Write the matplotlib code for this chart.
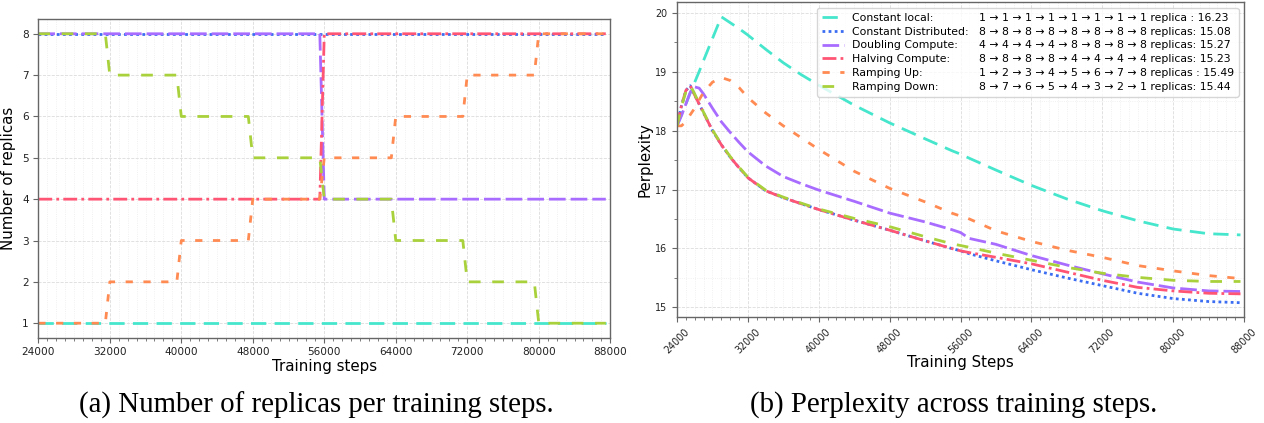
import numpy as np
import matplotlib.pyplot as plt
from matplotlib.ticker import MultipleLocator
from matplotlib.lines import Line2D

# ---- data: replica schedules (left panel) ----
sched_steps = [24000, 31500, 32000, 39500, 40000, 47500, 48000, 55500,
               56000, 63500, 64000, 71500, 72000, 79500, 80000, 87500]
rep_local = [1, 1, 1, 1, 1, 1, 1, 1, 1, 1, 1, 1, 1, 1, 1, 1]
rep_dist = [8, 8, 8, 8, 8, 8, 8, 8, 8, 8, 8, 8, 8, 8, 8, 8]
rep_double = [8, 8, 8, 8, 8, 8, 8, 8, 4, 4, 4, 4, 4, 4, 4, 4]
rep_halve = [4, 4, 4, 4, 4, 4, 4, 4, 8, 8, 8, 8, 8, 8, 8, 8]
rep_up = [1, 1, 2, 2, 3, 3, 4, 4, 5, 5, 6, 6, 7, 7, 8, 8]
rep_down = [8, 8, 7, 7, 6, 6, 5, 5, 4, 4, 3, 3, 2, 2, 1, 1]

# ---- data: perplexity curves (right panel) ----
ppl_steps = [24000, 24500, 25000, 25500, 26000, 26500, 27000, 28000, 29000, 30000,
             31000, 32000, 34000, 36000, 38000, 40000, 44000, 48000, 52000, 55000,
             56000, 57000, 60000, 64000, 68000, 72000, 76000, 80000, 84000, 87600]
ppl_local = [18.08, 18.27, 18.45, 18.64, 18.82, 19.00, 19.19, 19.56, 19.93, 19.83,
             19.73, 19.62, 19.38, 19.15, 18.95, 18.77, 18.43, 18.13, 17.86, 17.66,
             17.60, 17.53, 17.33, 17.07, 16.84, 16.64, 16.47, 16.33, 16.25, 16.23]
ppl_dist = [18.08, 18.42, 18.68, 18.76, 18.60, 18.45, 18.30, 18.00, 17.76, 17.55,
            17.37, 17.20, 16.98, 16.86, 16.76, 16.66, 16.48, 16.31, 16.13, 16.00,
            15.96, 15.91, 15.79, 15.64, 15.50, 15.37, 15.24, 15.15, 15.10, 15.08]
ppl_double = [18.08, 18.25, 18.45, 18.65, 18.74, 18.72, 18.62, 18.38, 18.15, 17.97,
              17.80, 17.64, 17.40, 17.22, 17.10, 16.99, 16.80, 16.60, 16.45, 16.32,
              16.27, 16.17, 16.07, 15.88, 15.72, 15.57, 15.43, 15.33, 15.28, 15.27]
ppl_halve = [18.08, 18.42, 18.68, 18.76, 18.60, 18.45, 18.30, 18.00, 17.76, 17.55,
             17.37, 17.20, 16.98, 16.86, 16.76, 16.66, 16.48, 16.31, 16.13, 16.00,
             15.96, 15.93, 15.85, 15.74, 15.60, 15.46, 15.34, 15.28, 15.24, 15.23]
ppl_up = [18.08, 18.08, 18.15, 18.27, 18.38, 18.52, 18.65, 18.82, 18.90, 18.85,
          18.73, 18.56, 18.30, 18.08, 17.88, 17.68, 17.31, 17.02, 16.79, 16.60,
          16.55, 16.50, 16.30, 16.12, 15.97, 15.85, 15.71, 15.62, 15.54, 15.49]
ppl_down = [18.08, 18.40, 18.66, 18.77, 18.62, 18.46, 18.31, 18.01, 17.77, 17.56,
            17.38, 17.21, 16.99, 16.87, 16.77, 16.67, 16.51, 16.37, 16.20, 16.08,
            16.05, 16.02, 15.92, 15.80, 15.68, 15.58, 15.51, 15.46, 15.44, 15.44]

names = ['Constant local:', 'Constant Distributed:', 'Doubling Compute:',
         'Halving Compute:', 'Ramping Up:', 'Ramping Down:']
schedules = ['1 → 1 → 1 → 1 → 1 → 1 → 1 → 1 replica : 16.23',
             '8 → 8 → 8 → 8 → 8 → 8 → 8 → 8 replicas: 15.08',
             '4 → 4 → 4 → 4 → 8 → 8 → 8 → 8 replicas: 15.27',
             '8 → 8 → 8 → 8 → 4 → 4 → 4 → 4 replicas: 15.23',
             '1 → 2 → 3 → 4 → 5 → 6 → 7 → 8 replicas : 15.49',
             '8 → 7 → 6 → 5 → 4 → 3 → 2 → 1 replicas: 15.44']

colors = ['#45e6cc', '#3b6df2', '#a86cff', '#ff5574', '#ff8a52', '#a9d13b']
styles = [(0, (5.5, 3)), (0, (1, 1.2)), (0, (6, 1.8)), (0, (5, 1.5, 1, 1.5)),
          (0, (2.6, 3.8)), (0, (4.2, 4.2))]

rep_series = [rep_local, rep_dist, rep_double, rep_halve, rep_up, rep_down]
ppl_series = [ppl_local, ppl_dist, ppl_double, ppl_halve, ppl_up, ppl_down]

fig = plt.figure(figsize=(12.64, 4.23), dpi=100)
ax1 = fig.add_axes([0.0303, 0.2017, 0.4525, 0.7527])
ax2 = fig.add_axes([0.5356, 0.2506, 0.4486, 0.7435])

for s, c, ls in zip(rep_series, colors, styles):
    ax1.plot(sched_steps, s, color=c, linestyle=ls, linewidth=2)

lines = []
for s, c, ls in zip(ppl_series, colors, styles):
    ln, = ax2.plot(ppl_steps, s, color=c, linestyle=ls, linewidth=2)
    lines.append(ln)

for ax in (ax1, ax2):
    ax.set_xlim(24000, 88000)
    ax.xaxis.set_major_locator(MultipleLocator(8000))
    ax.xaxis.set_minor_locator(MultipleLocator(1000))
    ax.grid(which='major', color='#dcdcdc', linestyle='--', linewidth=0.6)
    ax.grid(which='minor', axis='x', color='#ececec', linestyle=':', linewidth=0.6)
    ax.set_axisbelow(True)
    for sp in ax.spines.values():
        sp.set_color('#666666')
        sp.set_linewidth(1.0)
    ax.tick_params(which='both', colors='#666666', labelcolor='#222222')
    ax.tick_params(which='minor', length=2)

ax1.set_yticks(range(1, 9))
ax1.tick_params(labelsize=7.6)
ax1.set_xlabel('Training steps', fontsize=10.8, labelpad=1)
ax1.set_ylabel('Number of replicas', fontsize=10.8, labelpad=4)

ax2.yaxis.set_minor_locator(MultipleLocator(0.5))
ax2.grid(which='minor', axis='y', color='#ececec', linestyle=':', linewidth=0.6)
ax2.tick_params(labelsize=6.9)
ax2.tick_params(axis='x', labelrotation=45)
ax2.set_xlabel('Training Steps', fontsize=10.8, labelpad=0)
ax2.set_ylabel('Perplexity', fontsize=10.8, labelpad=2)

blank = [Line2D([], [], linestyle='none') for _ in schedules]
ax2.legend(lines + blank, names + schedules, ncol=2, loc='upper right',
           fontsize=7.8, labelspacing=0.35, columnspacing=-1.9,
           handletextpad=0.8, borderpad=0.45)

fig.text(316 / 1264, 1 - 405 / 423, '(a) Number of replicas per training steps.',
         ha='center', va='center', fontsize=20.8, family='Liberation Serif')
fig.text(954 / 1264, 1 - 405 / 423, '(b) Perplexity across training steps.',
         ha='center', va='center', fontsize=20.8, family='Liberation Serif')

fig.savefig('out.png', dpi=100)
